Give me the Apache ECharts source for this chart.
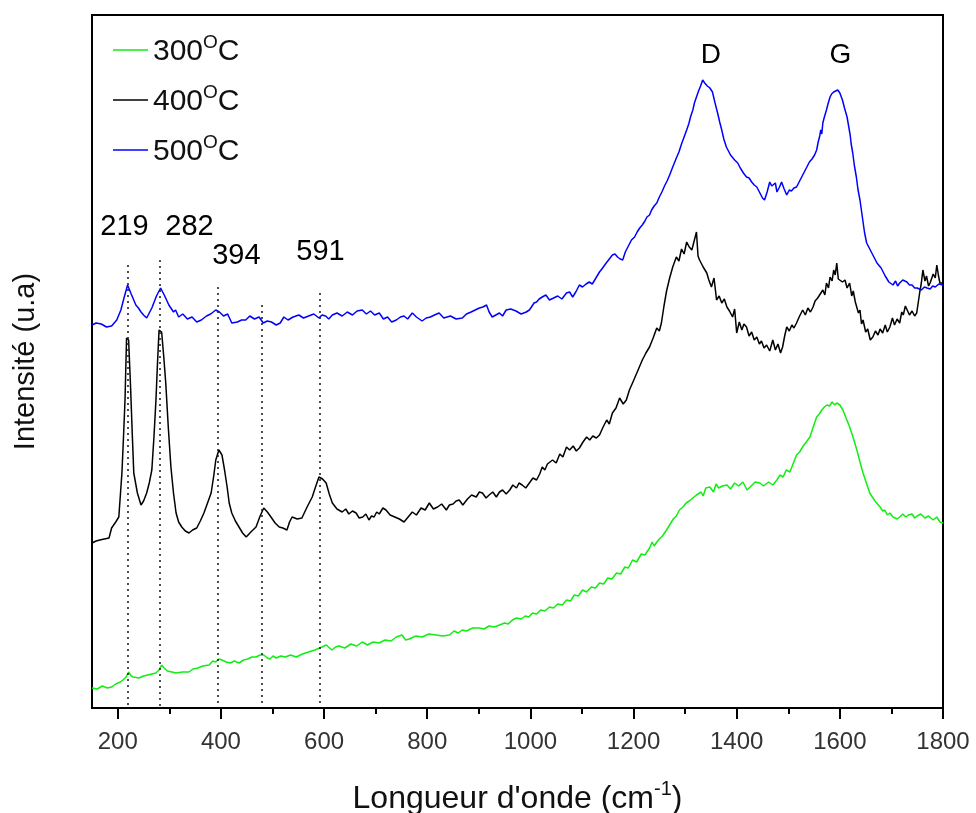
<!DOCTYPE html>
<html>
<head>
<meta charset="utf-8">
<script src="https://cdn.jsdelivr.net/npm/echarts@6/dist/echarts.min.js"></script>
<style>
  html, body { margin: 0; padding: 0; background: #fff; }
  #chart { width: 976px; height: 813px; }
</style>
</head>
<body>
<div id="chart"></div>
<script>
// Raman spectra of samples annealed at 300, 400 and 500 °C (stacked, arbitrary units)
const seriesNames = ['300', '400', '500'];

const spectrum300 = [
  [150,20],[160,19],[170,22],[180,20],[188,21],[196,24],[205,26],[210,28],[216,31],[221,36],[226,32],[230,31],
  [241,30],[250,32],[258,33],[266,34],[274,35],[280,38],[285,43],[290,40],[296,37],[305,36],[313,35],[325,36],
  [338,36],[346,39],[355,40],[365,42],[377,43],[384,47],[390,46],[396,49],[402,48],[410,46],[418,45],[426,47],
  [435,45],[444,48],[452,49],[460,51],[468,51],[476,53],[483,53],[490,50],[495,49],[501,52],[507,50],[516,52],
  [525,51],[535,53],[546,51],[558,54],[570,56],[582,58],[596,61],[604,63],[615,58],[622,61],[629,62],[640,60],
  [652,64],[663,62],[674,66],[684,63],[695,66],[707,65],[718,68],[730,67],[740,71],[751,73],[758,68],[765,69],
  [778,72],[790,71],[803,74],[817,73],[830,72],[843,73],[852,77],[860,75],[868,78],[876,77],[888,80],[901,80],
  [910,79],[920,82],[930,81],[940,83],[950,85],[957,84],[965,88],[973,90],[982,89],[990,92],[997,91],[1004,95],
  [1012,94],[1020,98],[1028,97],[1037,101],[1045,100],[1053,104],[1062,103],[1070,108],[1078,107],[1085,113],
  [1093,112],[1101,118],[1109,116],[1118,121],[1126,120],[1134,125],[1142,124],[1150,130],[1158,129],[1167,135],
  [1175,134],[1183,141],[1190,140],[1198,148],[1206,146],[1215,154],[1222,153],[1231,160],[1236,166],[1240,162],
  [1248,168],[1256,172],[1264,178],[1270,183],[1277,189],[1283,192],[1289,198],[1296,201],[1302,205],[1308,207],
  [1315,210],[1322,213],[1331,216],[1335,212],[1340,220],[1348,221],[1355,216],[1360,224],[1365,220],[1372,222],
  [1381,223],[1388,219],[1396,225],[1404,222],[1412,226],[1420,218],[1428,222],[1436,226],[1445,225],[1452,222],
  [1462,226],[1470,223],[1478,228],[1484,233],[1490,231],[1496,238],[1503,236],[1510,245],[1516,253],[1522,256],
  [1529,262],[1535,266],[1542,271],[1549,282],[1555,291],[1560,294],[1565,298],[1570,301],[1575,303],[1580,302],
  [1585,306],[1590,303],[1594,305],[1600,303],[1606,298],[1612,290],[1619,281],[1626,270],[1633,258],[1639,246],
  [1645,235],[1652,224],[1658,215],[1663,211],[1668,207],[1673,204],[1678,201],[1683,197],[1687,198],[1692,193],
  [1697,195],[1703,191],[1706,193],[1711,189],[1716,191],[1722,194],[1728,191],[1733,193],[1740,194],[1745,190],
  [1750,192],[1757,194],[1765,190],[1772,192],[1781,188],[1788,191],[1794,186],[1800,185]
];

const spectrum400 = [
  [150,165],[158,167],[165,168],[174,169],[183,170],[188,180],[196,186],[202,191],[208,235],[211,270],[214,308],
  [217,370],[221,368],[225,318],[228,275],[231,235],[238,215],[245,203],[250,207],[256,215],[261,225],[266,238],
  [270,270],[274,308],[277,345],[280,378],[285,376],[289,352],[293,325],[298,280],[303,241],[308,215],[313,195],
  [318,186],[324,181],[331,177],[338,175],[345,178],[353,180],[360,187],[367,195],[374,205],[381,215],[386,232],
  [390,248],[396,258],[402,253],[407,238],[412,221],[416,205],[421,195],[428,187],[435,181],[442,175],[449,171],
  [458,176],[468,181],[476,192],[483,200],[490,196],[497,191],[505,185],[513,181],[520,180],[528,178],[533,186],
  [538,191],[548,189],[557,190],[567,201],[577,211],[584,222],[590,231],[597,229],[604,225],[610,214],[616,205],
  [625,199],[635,196],[642,199],[648,194],[655,197],[662,195],[668,190],[675,191],[681,194],[687,188],[692,192],
  [697,191],[702,196],[707,194],[714,200],[720,198],[728,193],[737,191],[746,189],[755,186],[763,191],[771,196],
  [779,193],[788,200],[796,198],[804,205],[812,199],[820,201],[828,204],[837,198],[843,203],[850,204],[856,207],
  [862,208],[869,203],[878,209],[886,213],[895,211],[901,216],[907,215],[914,210],[920,213],[927,216],[934,211],
  [940,216],[946,218],[953,214],[960,218],[966,223],[973,220],[978,225],[984,223],[991,220],[998,225],[1005,230],
  [1012,228],[1018,234],[1023,241],[1028,238],[1033,244],[1038,246],[1043,248],[1050,245],[1057,254],[1063,251],
  [1070,261],[1076,258],[1083,262],[1089,257],[1095,260],[1102,266],[1109,271],[1115,268],[1121,272],[1128,270],
  [1134,273],[1141,281],[1148,288],[1153,284],[1159,295],[1166,300],[1173,310],[1180,304],[1186,308],[1192,318],
  [1198,325],[1208,337],[1217,348],[1224,355],[1231,361],[1238,370],[1245,380],[1250,377],[1254,385],[1259,402],
  [1264,417],[1270,430],[1276,441],[1283,451],[1288,447],[1293,459],[1298,454],[1303,466],[1308,461],[1313,458],
  [1318,468],[1322,476],[1325,452],[1328,448],[1335,441],[1342,435],[1346,428],[1351,421],[1356,430],[1361,408],
  [1366,412],[1371,405],[1376,409],[1381,401],[1386,397],[1392,391],[1396,399],[1400,375],[1405,386],[1410,378],
  [1414,384],[1419,381],[1424,372],[1429,376],[1434,368],[1439,371],[1444,364],[1448,367],[1453,360],[1458,363],
  [1464,357],[1470,368],[1475,358],[1480,364],[1485,355],[1489,361],[1493,372],[1497,381],[1502,377],[1507,383],
  [1511,380],[1516,385],[1522,392],[1528,398],[1533,393],[1538,400],[1543,396],[1548,401],[1552,407],[1557,410],
  [1562,414],[1567,418],[1571,413],[1574,425],[1578,420],[1581,431],[1585,427],[1588,438],[1591,433],[1594,445],
  [1597,429],[1600,431],[1605,426],[1610,428],[1614,420],[1619,425],[1623,412],[1626,417],[1630,406],[1633,408],
  [1636,395],[1639,398],[1642,384],[1645,388],[1650,376],[1654,379],[1659,368],[1664,371],[1669,377],[1674,373],
  [1678,379],[1683,375],[1688,383],[1692,376],[1697,381],[1702,390],[1706,383],[1711,389],[1716,385],[1720,396],
  [1723,393],[1727,402],[1730,400],[1735,393],[1740,397],[1745,392],[1749,395],[1755,416],[1758,425],[1761,438],
  [1765,427],[1768,432],[1772,422],[1775,425],[1781,434],[1785,430],[1788,443],[1791,433],[1794,425],[1800,425]
];

const spectrum500 = [
  [150,383],[158,385],[168,384],[178,381],[188,382],[198,388],[206,398],[212,410],[219,423],[226,414],[235,403],
  [240,400],[245,396],[250,393],[256,390],[261,395],[266,400],[275,412],[283,420],[291,412],[299,403],[308,396],
  [312,398],[318,391],[326,394],[335,389],[344,391],[353,386],[362,388],[372,392],[380,394],[390,398],[397,396],
  [405,392],[413,394],[421,385],[432,386],[440,388],[448,388],[456,392],[465,389],[474,391],[482,385],[490,387],
  [498,386],[507,383],[515,385],[522,391],[530,388],[540,391],[551,393],[560,390],[570,392],[580,394],[590,390],
  [596,393],[603,392],[609,389],[616,393],[625,395],[635,392],[645,396],[655,393],[664,397],[674,398],[682,394],
  [690,397],[698,393],[707,395],[715,389],[723,391],[731,386],[740,388],[748,391],[755,392],[762,389],[771,395],
  [779,391],[790,387],[798,390],[806,391],[814,393],[823,395],[832,390],[845,392],[856,389],[868,390],[876,394],
  [885,396],[893,398],[901,400],[908,401],[915,403],[920,396],[926,391],[933,393],[940,395],[946,392],[953,398],
  [962,399],[972,397],[982,394],[992,396],[998,398],[1002,401],[1007,405],[1012,406],[1017,409],[1023,411],
  [1030,413],[1037,408],[1045,410],[1053,412],[1061,409],[1070,415],[1076,416],[1082,411],[1088,416],[1095,423],
  [1101,421],[1108,424],[1114,426],[1120,424],[1127,430],[1134,436],[1140,440],[1147,445],[1153,449],[1159,453],
  [1164,454],[1169,451],[1174,449],[1179,448],[1184,456],[1190,462],[1196,468],[1202,471],[1207,476],[1212,480],
  [1217,483],[1222,487],[1226,491],[1231,493],[1235,498],[1240,502],[1245,505],[1250,511],[1255,516],[1260,522],
  [1265,527],[1270,533],[1276,541],[1283,550],[1288,556],[1293,564],[1298,571],[1303,578],[1307,584],[1311,592],
  [1315,598],[1318,605],[1322,611],[1326,617],[1330,622],[1334,628],[1338,625],[1343,622],[1348,620],[1353,616],
  [1358,605],[1363,595],[1367,586],[1371,578],[1375,569],[1380,561],[1388,553],[1396,548],[1402,545],[1407,540],
  [1413,535],[1419,531],[1424,530],[1429,526],[1434,523],[1439,521],[1443,517],[1446,514],[1450,510],[1454,508],
  [1459,516],[1464,526],[1468,522],[1471,520],[1475,525],[1478,516],[1483,521],[1487,526],[1492,519],[1497,513],
  [1502,518],[1506,517],[1511,520],[1516,521],[1521,526],[1526,531],[1531,536],[1536,541],[1541,546],[1546,549],
  [1551,553],[1555,558],[1558,566],[1561,572],[1563,578],[1565,574],[1567,585],[1570,591],[1574,598],[1577,604],
  [1581,611],[1584,614],[1588,616],[1592,617],[1596,618],[1600,615],[1605,608],[1609,600],[1614,591],[1617,582],
  [1620,573],[1622,564],[1625,555],[1628,543],[1632,531],[1635,519],[1639,508],[1642,497],[1645,486],[1648,475],
  [1652,465],[1657,460],[1662,455],[1667,450],[1672,445],[1680,440],[1688,432],[1695,426],[1703,423],[1708,427],
  [1712,422],[1716,425],[1722,428],[1730,426],[1735,423],[1740,423],[1745,420],[1750,420],[1758,418],[1764,421],
  [1769,420],[1775,419],[1780,422],[1785,421],[1792,424],[1800,423]
];

// Dotted guide lines: wavenumber and height of the top end
const peakPositions = [219, 282, 394, 480, 591];
const peakLineTops = [443, 448, 421, 403, 415];

// Peak annotations: [x, y, text]
const peakLabels = [[214, 481, '219'], [340, 481, '282'], [431, 452, '394'], [594, 456, '591']];
const bandLabels = [[1351, 652, 'D'], [1602, 652, 'G']];

const majorTicks = [200, 400, 600, 800, 1000, 1200, 1400, 1600, 1800];
const minorTicks = [300, 500, 700, 900, 1100, 1300, 1500, 1700];

const colors = ['#11ee11', '#000000', '#0000ff'];
const FONT = 'Liberation Sans, Arial, sans-serif';

const chart = echarts.init(document.getElementById('chart'));

function lineSeries(name, data, color) {
  return {
    name: name,
    type: 'line',
    data: data,
    symbol: 'none',
    showSymbol: false,
    lineStyle: { color: color, width: 1.5 },
    itemStyle: { color: color },
    emphasis: { disabled: true },
    z: 3
  };
}

const textSeries = (name, pts, size) => ({
  name: name,
  type: 'scatter',
  data: pts.map(p => ({ value: [p[0], p[1]], name: p[2] })),
  symbolSize: 1,
  silent: true,
  itemStyle: { opacity: 0 },
  label: {
    show: true,
    position: [0, 0],
    align: 'center',
    verticalAlign: 'middle',
    formatter: '{b}',
    color: '#000',
    opacity: 1,
    fontSize: size,
    fontFamily: FONT
  },
  emphasis: { disabled: true },
  z: 4
});

chart.setOption({
  animation: false,
  backgroundColor: '#ffffff',
  grid: {
    left: 92, right: 33, top: 15, bottom: 105,
    containLabel: false,
    outerBoundsMode: 'none',
    show: true, borderColor: '#000', borderWidth: 2, backgroundColor: 'transparent'
  },
  legend: {
    data: seriesNames,
    orient: 'vertical',
    left: 108,
    top: 28,
    itemWidth: 35,
    itemHeight: 14,
    itemGap: 13,
    icon: 'path://M0,6 L35,6 L35,7.5 L0,7.5 Z',
    formatter: n => '{n|' + n + '}{s|O}{n|C}',
    textStyle: {
      fontFamily: FONT,
      color: '#111',
      rich: {
        n: { fontSize: 30, fontFamily: FONT, color: '#111', verticalAlign: 'bottom', lineHeight: 34 },
        s: { fontSize: 19, fontFamily: FONT, color: '#111', verticalAlign: 'top', lineHeight: 34, padding: [0, 0, 18, 0] }
      }
    }
  },
  xAxis: [
    {
      type: 'value', min: 150, max: 1800,
      name: "{a|Longueur d'onde (cm}{s|-1}{a|)}",
      nameLocation: 'middle', nameGap: 71,
      nameTextStyle: {
        rich: {
          a: { fontSize: 32, fontFamily: FONT, color: '#111', verticalAlign: 'bottom', lineHeight: 36 },
          s: { fontSize: 20, fontFamily: FONT, color: '#111', verticalAlign: 'top', lineHeight: 36, padding: [0, 0, 18, 0] }
        }
      },
      axisLine: { show: true, onZero: false, lineStyle: { color: '#000', width: 2 } },
      axisTick: { show: true, inside: false, length: 11, customValues: majorTicks, lineStyle: { color: '#000', width: 2 } },
      axisLabel: {
        show: true, customValues: majorTicks, margin: 22, fontSize: 24, fontFamily: FONT, color: '#333',
        formatter: v => String(v)
      },
      splitLine: { show: false }
    },
    {
      type: 'value', min: 150, max: 1800, position: 'bottom',
      axisLine: { show: false },
      axisTick: { show: true, inside: false, length: 6, customValues: minorTicks, lineStyle: { color: '#000', width: 2 } },
      axisLabel: { show: false },
      splitLine: { show: false }
    }
  ],
  yAxis: {
    type: 'value', min: 0, max: 693,
    name: 'Intensité (u.a)',
    nameLocation: 'middle', nameGap: 52, nameRotate: 90,
    nameTextStyle: { fontSize: 29, fontFamily: FONT, color: '#111' },
    axisLine: { show: true, lineStyle: { color: '#000', width: 2 } },
    axisTick: { show: false },
    axisLabel: { show: false },
    splitLine: { show: false }
  },
  series: [
    lineSeries(seriesNames[0], spectrum300, colors[0]),
    lineSeries(seriesNames[1], spectrum400, colors[1]),
    lineSeries(seriesNames[2], spectrum500, colors[2]),
    {
      name: 'guides',
      type: 'line',
      data: [],
      silent: true,
      markLine: {
        silent: true,
        symbol: ['none', 'none'],
        label: { show: false },
        lineStyle: { color: '#222', type: [2, 4], width: 1.6 },
        data: peakPositions.map((x, i) => [{ coord: [x, peakLineTops[i]] }, { coord: [x, 2] }])
      },
      z: 2
    },
    textSeries('peaks', peakLabels, 29),
    textSeries('bands', bandLabels, 28)
  ]
});
</script>
</body>
</html>
